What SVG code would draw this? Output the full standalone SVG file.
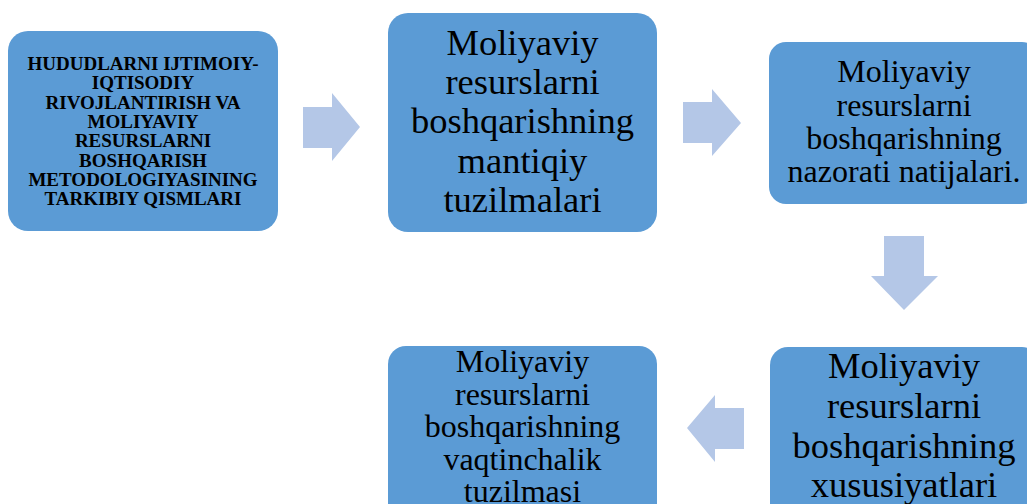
<svg xmlns="http://www.w3.org/2000/svg" width="1027" height="504" viewBox="0 0 1027 504">
<style>
.box{fill:#5B9BD5;}
.arr{fill:#B4C7E7;}
text{font-family:"Liberation Serif","Times New Roman",serif;fill:#000;text-anchor:middle;}
.b1{font-size:19px;font-weight:bold;}
.big{font-size:36.5px;}
.mid{font-size:32px;}
</style>
<rect width="1027" height="504" fill="#fff"/>
<g id="connectors">
<polygon class="arr" points="303,107 332,107 332,93 360,127 332,161 332,148 303,148"/>
<polygon class="arr" points="683,102 712,102 712,89 741,123 712,156 712,143 683,143"/>
<polygon class="arr" points="884,236 924,236 924,276 938,276 904,310 871,276 884,276"/>
<polygon class="arr" points="744,408 715,408 715,395 687,428 715,462 715,449 744,449"/>
</g>
<g id="node1">
<rect class="box" x="8" y="31" width="270" height="200" rx="20"/>
<text class="b1" x="143" y="70">HUDUDLARNI IJTIMOIY-</text>
<text class="b1" x="143" y="89.3">IQTISODIY</text>
<text class="b1" x="143" y="108.6">RIVOJLANTIRISH VA</text>
<text class="b1" x="143" y="127.9">MOLIYAVIY</text>
<text class="b1" x="143" y="147.2">RESURSLARNI</text>
<text class="b1" x="143" y="166.5">BOSHQARISH</text>
<text class="b1" x="143" y="185.8">METODOLOGIYASINING</text>
<text class="b1" x="143" y="205.1">TARKIBIY QISMLARI</text>
</g>
<g id="node2">
<rect class="box" x="388" y="13" width="269" height="219" rx="20"/>
<text class="big" x="522.5" y="55">Moliyaviy</text>
<text class="big" x="522.5" y="94">resurslarni</text>
<text class="big" x="522.5" y="133">boshqarishning</text>
<text class="big" x="522.5" y="173">mantiqiy</text>
<text class="big" x="522.5" y="212">tuzilmalari</text>
</g>
<g id="node3">
<rect class="box" x="769" y="42" width="270" height="162" rx="17"/>
<text class="mid" x="904" y="82">Moliyaviy</text>
<text class="mid" x="904" y="115.5">resurslarni</text>
<text class="mid" x="904" y="148.5">boshqarishning</text>
<text class="mid" x="904" y="181.7">nazorati natijalari.</text>
</g>
<g id="node4">
<rect class="box" x="770" y="347" width="270" height="200" rx="18"/>
<text class="big" x="904" y="378">Moliyaviy</text>
<text class="big" x="904" y="418">resurslarni</text>
<text class="big" x="904" y="458">boshqarishning</text>
<text class="big" x="904" y="497">xususiyatlari</text>
</g>
<g id="node5">
<rect class="box" x="388" y="346" width="269" height="200" rx="18"/>
<text class="mid" x="522.5" y="372">Moliyaviy</text>
<text class="mid" x="522.5" y="404.5">resurslarni</text>
<text class="mid" x="522.5" y="437">boshqarishning</text>
<text class="mid" x="522.5" y="470">vaqtinchalik</text>
<text class="mid" x="522.5" y="502">tuzilmasi</text>
</g>
</svg>
